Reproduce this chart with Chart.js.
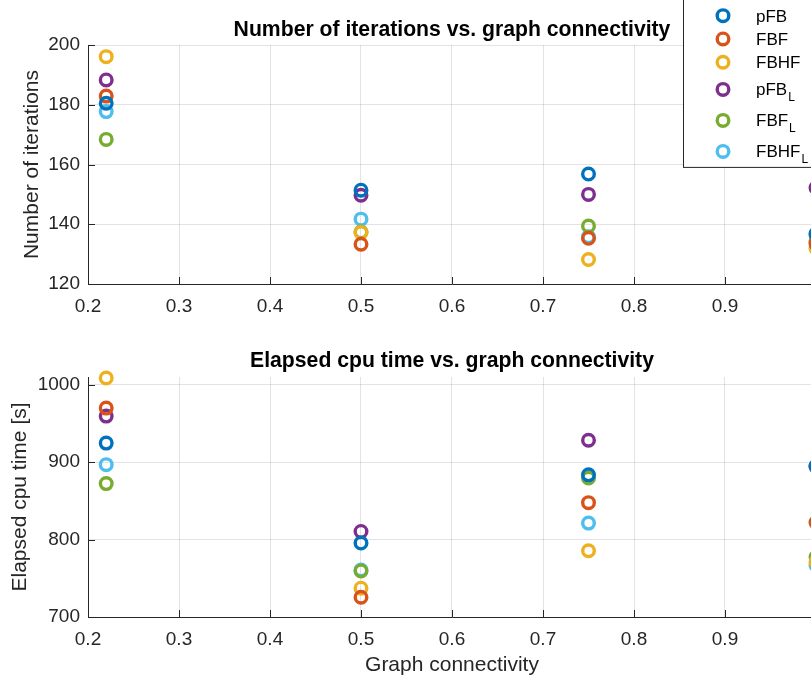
<!DOCTYPE html>
<html>
<head>
<meta charset="utf-8">
<title>Iterations and cpu time vs. graph connectivity</title>
<script src="https://cdn.jsdelivr.net/npm/chart.js@4/dist/chart.umd.min.js"></script>
<style>
  html, body { margin: 0; padding: 0; background: #fff; overflow: hidden; width: 811px; height: 679px; }
  #wrap { position: relative; width: 850px; height: 679px; }
  .panel { position: absolute; left: 0; width: 850px; }
  #topPanel { top: 0; height: 340px; }
  #bottomPanel { top: 340px; height: 339px; }
  canvas { display: block; }
</style>
</head>
<body>
<div id="wrap">
  <div class="panel" id="topPanel"><canvas id="iterChart" width="850" height="340"></canvas></div>
  <div class="panel" id="bottomPanel"><canvas id="cpuChart" width="850" height="339"></canvas></div>
</div>
<script>
// ---- data ----
const connectivity = [0.22, 0.5, 0.75, 1.0];
const seriesNames = ['pFB', 'FBF', 'FBHF', 'pFB_L', 'FBF_L', 'FBHF_L'];

// number of iterations per method
const iterPFB   = [180.5, 151.4, 156.8, 136.8];
const iterFBF   = [182.9, 133.3, 135.3, 133.5];
const iterFBHF  = [196.1, 137.2, 128.2, 132.0];
const iterPFBL  = [188.3, 149.7, 150.0, 152.2];
const iterFBFL  = [168.4, 137.4, 139.4, 134.3];
const iterFBHFL = [177.7, 141.7, 135.8, 136.4];

// elapsed cpu time [s] per method
const cpuPFB   = [924.6, 795.5, 883.6, 895.0];
const cpuFBF   = [969.8, 725.5, 847.7, 822.0];
const cpuFBHF  = [1008.7, 737.2, 785.6, 771.0];
const cpuPFBL  = [959.5, 810.5, 928.3, 894.3];
const cpuFBFL  = [872.3, 759.5, 879.5, 777.5];
const cpuFBHFL = [896.8, 760.7, 821.3, 767.0];

// axis ticks
const xTicks = [0.2, 0.3, 0.4, 0.5, 0.6, 0.7, 0.8, 0.9, 1.0];
const xTickLabels = ['0.2', '0.3', '0.4', '0.5', '0.6', '0.7', '0.8', '0.9', '1'];
const iterTicks = [120, 140, 160, 180, 200];
const iterTickLabels = ['120', '140', '160', '180', '200'];
const cpuTicks = [700, 800, 900, 1000];
const cpuTickLabels = ['700', '800', '900', '1000'];

// ---- styling ----
const seriesColors = ['#0072BD', '#D95319', '#EDB120', '#7E2F8E', '#77AC30', '#4DBEEE'];
const FONT = "'Liberation Sans', Arial, Helvetica, sans-serif";
const AXIS_COLOR = '#262626';
const GRID_COLOR = 'rgba(38,38,38,0.13)';
const MARKER_R = 5.8;
const MARKER_W = 3.4;
const AXIS_LEFT = 88;
const AXIS_RIGHT_PAD = 34;

function makeDatasets(seriesValues) {
  return seriesValues.map((vals, i) => ({
    label: seriesNames[i],
    data: connectivity.map((x, j) => ({ x: x, y: vals[j] })),
    showLine: false,
    pointStyle: 'circle',
    pointRadius: MARKER_R,
    pointHoverRadius: MARKER_R,
    pointBorderWidth: MARKER_W,
    pointHoverBorderWidth: MARKER_W,
    borderColor: seriesColors[i],
    pointBorderColor: seriesColors[i],
    backgroundColor: 'rgba(0,0,0,0)',
    pointBackgroundColor: 'rgba(0,0,0,0)',
    clip: false
  }));
}

// MATLAB-style inward tick marks
const inwardTicks = {
  id: 'inwardTicks',
  beforeDatasetsDraw(chart) {
    const { ctx, chartArea } = chart;
    const len = 7;
    ctx.save();
    ctx.strokeStyle = AXIS_COLOR;
    ctx.lineWidth = 1;
    ctx.beginPath();
    chart.scales.x.ticks.forEach(t => {
      const px = Math.round(chart.scales.x.getPixelForValue(t.value)) + 0.5;
      ctx.moveTo(px, chartArea.bottom);
      ctx.lineTo(px, chartArea.bottom - len);
    });
    chart.scales.y.ticks.forEach(t => {
      const py = Math.round(chart.scales.y.getPixelForValue(t.value)) + 0.5;
      ctx.moveTo(chartArea.left, py);
      ctx.lineTo(chartArea.left + len, py);
    });
    ctx.stroke();
    ctx.restore();
  }
};

// bold title above each plot area
const panelTitle = {
  id: 'panelTitle',
  afterDraw(chart, args, opts) {
    if (!opts || !opts.text) return;
    const { ctx, chartArea } = chart;
    ctx.save();
    ctx.font = 'bold 21.2px ' + FONT;
    ctx.fillStyle = '#000';
    ctx.textAlign = 'center';
    ctx.textBaseline = 'middle';
    ctx.fillText(opts.text, (chartArea.left + chartArea.right) / 2, chartArea.top - opts.offset);
    ctx.restore();
  }
};

// boxed legend with subscripted labels
const boxLegend = {
  id: 'boxLegend',
  afterDraw(chart, args, opts) {
    if (!opts || !opts.show) return;
    const { ctx } = chart;
    const left = 683.5;
    const markerX = 723;
    const textX = 756;
    const plainRow = 23.3;
    const subRow = 31;
    const startY = 4;
    const rows = chart.data.datasets.map(ds => {
      const parts = ds.label.split('_');
      return { main: parts[0], sub: parts[1] || null, color: ds.borderColor };
    });
    const totalH = rows.reduce((s, r) => s + (r.sub ? subRow : plainRow), startY);
    ctx.save();
    ctx.fillStyle = '#fff';
    ctx.fillRect(left, -2, 300, totalH + 2);
    ctx.strokeStyle = AXIS_COLOR;
    ctx.lineWidth = 1;
    ctx.strokeRect(left, -2, 300, totalH + 2.5);
    let y = startY;
    rows.forEach(r => {
      const h = r.sub ? subRow : plainRow;
      const cy = y + h / 2;
      ctx.beginPath();
      ctx.arc(markerX, cy, MARKER_R, 0, Math.PI * 2);
      ctx.strokeStyle = r.color;
      ctx.lineWidth = MARKER_W;
      ctx.stroke();
      ctx.fillStyle = '#000';
      ctx.textAlign = 'left';
      ctx.textBaseline = 'alphabetic';
      ctx.font = '17px ' + FONT;
      const base = cy + 6;
      ctx.fillText(r.main, textX, base);
      if (r.sub) {
        const w = ctx.measureText(r.main).width;
        ctx.font = '12px ' + FONT;
        ctx.fillText(r.sub, textX + w + 1, base + 6);
      }
      y += h;
    });
    ctx.restore();
  }
};

function makeChart(canvasId, cfg) {
  return new Chart(document.getElementById(canvasId), {
    type: 'scatter',
    data: { datasets: makeDatasets(cfg.series) },
    plugins: [inwardTicks, panelTitle, boxLegend],
    options: {
      responsive: false,
      animation: false,
      events: [],
      layout: { padding: { top: cfg.padTop, right: AXIS_RIGHT_PAD, bottom: 0, left: 0 } },
      plugins: {
        legend: { display: false },
        tooltip: { enabled: false },
        title: { display: false },
        panelTitle: { text: cfg.title, offset: cfg.titleOffset },
        boxLegend: { show: cfg.legend }
      },
      scales: {
        x: {
          type: 'linear',
          min: 0.2,
          max: 1.0,
          afterBuildTicks: s => { s.ticks = xTicks.map(v => ({ value: v })); },
          afterFit: s => { s.height = cfg.xAxisHeight; },
          ticks: {
            callback: (v, i) => xTickLabels[i],
            font: { family: FONT, size: 19 },
            color: AXIS_COLOR,
            padding: 11,
            maxRotation: 0,
            autoSkip: false
          },
          grid: { color: GRID_COLOR, drawTicks: false, lineWidth: 1 },
          border: { display: true, color: AXIS_COLOR, width: 1 },
          title: {
            display: !!cfg.xTitle,
            text: cfg.xTitle || '',
            font: { family: FONT, size: 21 },
            color: AXIS_COLOR,
            padding: { top: 0, bottom: 1 }
          }
        },
        y: {
          type: 'linear',
          min: cfg.yMin,
          max: cfg.yMax,
          afterBuildTicks: s => { s.ticks = cfg.yTicks.map(v => ({ value: v })); },
          afterFit: s => { s.width = AXIS_LEFT; },
          ticks: {
            callback: (v, i) => cfg.yTickLabels[i],
            font: { family: FONT, size: 19 },
            color: AXIS_COLOR,
            padding: 8,
            autoSkip: false
          },
          grid: { color: GRID_COLOR, drawTicks: false, lineWidth: 1 },
          border: { display: true, color: AXIS_COLOR, width: 1 },
          title: {
            display: true,
            text: cfg.yTitle,
            font: { family: FONT, size: 21 },
            color: AXIS_COLOR,
            padding: { top: cfg.yTitlePad, bottom: 0 }
          }
        }
      }
    }
  });
}

makeChart('iterChart', {
  series: [iterPFB, iterFBF, iterFBHF, iterPFBL, iterFBFL, iterFBHFL],
  title: 'Number of iterations vs. graph connectivity',
  titleOffset: 15,
  padTop: 45,
  xAxisHeight: 56,
  yMin: 120, yMax: 200,
  yTicks: iterTicks, yTickLabels: iterTickLabels,
  yTitle: 'Number of iterations',
  yTitlePad: 20,
  legend: true
});

makeChart('cpuChart', {
  series: [cpuPFB, cpuFBF, cpuFBHF, cpuPFBL, cpuFBFL, cpuFBHFL],
  title: 'Elapsed cpu time vs. graph connectivity',
  titleOffset: 16,
  padTop: 37,
  xAxisHeight: 62,
  yMin: 700, yMax: 1010,
  yTicks: cpuTicks, yTickLabels: cpuTickLabels,
  yTitle: 'Elapsed cpu time [s]',
  yTitlePad: 8,
  xTitle: 'Graph connectivity',
  legend: false
});
</script>
</body>
</html>
